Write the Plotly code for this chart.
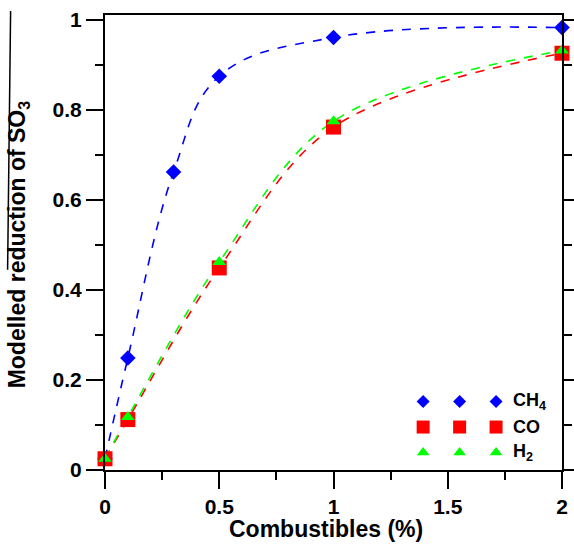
import plotly.graph_objects as go

# ---- data ----
x_vals = [0, 0.1, 0.3, 0.5, 1, 2]
ch4 = [0.025, 0.249, 0.662, 0.875, 0.961, 0.983]
x_co = [0, 0.1, 0.5, 1, 2]
co = [0.025, 0.112, 0.449, 0.762, 0.926]
x_h2 = [0, 0.1, 0.5, 1, 2]
h2 = [0.025, 0.118, 0.462, 0.775, 0.932]

series_names = ["CH<sub>4</sub>", "CO", "H<sub>2</sub>"]
series_colors = ["#0000FF", "#FF0000", "#00FF00"]
series_symbols = ["diamond", "square", "triangle-up"]
marker_sizes = [12, 15, 12]
legend_marker_sizes = [10, 13, 11]
legend_slots = [0, 1, 2]
curve_smoothing = [1.1, 1.0, 1.0]

x_ticks = [0, 0.5, 1, 1.5, 2]
x_ticklabels = ["0", "0.5", "1", "1.5", "2"]
y_ticks = [0, 0.2, 0.4, 0.6, 0.8, 1]
y_ticklabels = ["0", "0.2", "0.4", "0.6", "0.8", "1"]

W, H = 574, 545
ML, MR, MT, MB = 104.5, 12, 15, 74.5
PW, PH = W - ML - MR, H - MT - MB


def px_x(p):
    return (p - ML) / PW


def px_y(p):
    return (H - MB - p) / PH


fig = go.Figure()

data = [(x_vals, ch4), (x_co, co), (x_h2, h2)]
# dashed fitted curves
for (xs, ys), c, sm in zip(data, series_colors, curve_smoothing):
    fig.add_trace(go.Scatter(x=xs, y=ys, mode="lines",
                             line=dict(color=c, width=1.6, dash="dash", shape="spline", smoothing=sm),
                             showlegend=False, hoverinfo="skip", cliponaxis=False))
# markers
for (xs, ys), c, s, ms, n in zip(data, series_colors, series_symbols, marker_sizes, series_names):
    fig.add_trace(go.Scatter(x=xs, y=ys, mode="markers", name=n,
                             marker=dict(color=c, symbol=s, size=ms, line=dict(width=0)),
                             showlegend=False, cliponaxis=False))

# custom legend (three markers per row) on an overlay axis
for i, (c, s, ms) in enumerate(zip(series_colors, series_symbols, legend_marker_sizes)):
    fig.add_trace(go.Scatter(x=legend_slots, y=[i] * len(legend_slots), mode="markers",
                             marker=dict(color=c, symbol=s, size=ms, line=dict(width=0)),
                             xaxis="x2", yaxis="y2", showlegend=False, hoverinfo="skip",
                             cliponaxis=False))

row_px = [402, 427, 453]
leg_x0, leg_x1 = px_x(423), px_x(496)
fig.update_layout(
    xaxis2=dict(domain=[leg_x0, leg_x1], range=[0, 2], visible=False, anchor="y2",
                fixedrange=True),
    yaxis2=dict(domain=[px_y(row_px[2]), px_y(row_px[0])], range=[2, 0], visible=False,
                anchor="x2", fixedrange=True),
)

annotations = []
for i, n in enumerate(series_names):
    annotations.append(dict(x=px_x(511), y=px_y(row_px[i]), xref="paper", yref="paper",
                            text="<b>" + n + "</b>", showarrow=False, xanchor="left",
                            yanchor="middle",
                            font=dict(family="Liberation Sans", size=18, color="black")))

annotations.append(dict(x=px_x(18), y=px_y(245), xref="paper", yref="paper",
                        text="<b>Modelled reduction of SO<sub>3</sub></b>", textangle=-90,
                        showarrow=False, xanchor="center", yanchor="middle",
                        font=dict(family="Liberation Sans", size=23, color="black")))
annotations.append(dict(x=px_x(325.5), y=px_y(530), xref="paper", yref="paper",
                        text="<b>Combustibles (%)</b>", showarrow=False,
                        xanchor="center", yanchor="middle",
                        font=dict(family="Liberation Sans", size=23, color="black")))

axis_common = dict(showgrid=False, zeroline=False, showline=True, linecolor="black",
                   linewidth=2, ticks="outside", tickwidth=2, ticklen=17,
                   tickcolor="black",
                   tickfont=dict(family="Liberation Sans", size=21, color="black", weight="bold"))

fig.update_layout(
    width=W, height=H,
    margin=dict(l=ML, r=MR, t=MT, b=MB, autoexpand=False),
    paper_bgcolor="white", plot_bgcolor="white",
    showlegend=False,
    xaxis=dict(range=[0, 2], tickvals=x_ticks, ticktext=x_ticklabels, mirror=True,
               minor=dict(dtick=0.25, ticklen=8, tickwidth=2, ticks="outside", tickcolor="black"),
               **axis_common),
    yaxis=dict(range=[0, 1.011], tickvals=y_ticks, ticktext=y_ticklabels, mirror="ticks",
               minor=dict(dtick=0.1, ticklen=8, tickwidth=2, ticks="outside", tickcolor="black"),
               **axis_common),
    annotations=annotations,
    shapes=[dict(type="line", xref="paper", yref="paper",
                 x0=px_x(7), y0=px_y(270), x1=px_x(10), y1=px_y(11),
                 line=dict(color="black", width=1.5))],
)

fig.write_html("out.html", config={"displayModeBar": False},
               post_script="document.body.style.margin='0';document.body.style.overflow='hidden';")
